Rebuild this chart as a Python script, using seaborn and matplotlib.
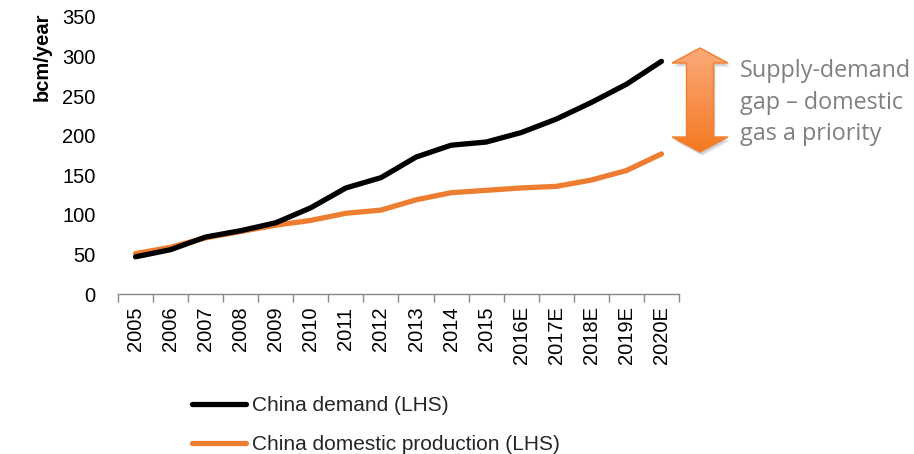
import numpy as np
import pandas as pd
import matplotlib
matplotlib.use("Agg")
import matplotlib.pyplot as plt
from matplotlib.path import Path
from matplotlib.patches import PathPatch, Polygon
from matplotlib.lines import Line2D
import seaborn as sns

years = ["2005", "2006", "2007", "2008", "2009", "2010", "2011", "2012",
         "2013", "2014", "2015", "2016E", "2017E", "2018E", "2019E", "2020E"]
demand = [47, 56, 72, 80, 90, 109, 134, 147, 173, 188, 192, 204, 221, 242, 265, 294]
production = [51, 59, 71, 79, 87, 93, 102, 106, 119, 128, 131, 134, 136, 144, 156, 177]
series_names = ["China demand (LHS)", "China domestic production (LHS)"]
series_colors = ["#000000", "#ED7D31"]
y_ticks = [0, 50, 100, 150, 200, 250, 300, 350]
gap_note = "Supply-demand\ngap \u2013 domestic\ngas a priority"

sns.set_theme(style="white")
plt.rcParams["font.family"] = ["Liberation Sans", "DejaVu Sans"]

W, H = 914, 454
fig = plt.figure(figsize=(W / 100, H / 100), dpi=100)
ax = fig.add_axes([118 / W, (H - 294) / H, 561 / W, 277 / H])

pos = np.arange(len(years))
df = pd.DataFrame({
    "pos": np.concatenate([pos, pos]),
    "value": demand + production,
    "series": [series_names[0]] * len(years) + [series_names[1]] * len(years),
})
# production drawn first so demand sits on top where they overlap
sns.lineplot(data=df[df.series == series_names[1]], x="pos", y="value",
             color=series_colors[1], lw=3.8, ax=ax, legend=False,
             solid_capstyle="round", solid_joinstyle="round")
sns.lineplot(data=df[df.series == series_names[0]], x="pos", y="value",
             color=series_colors[0], lw=3.8, ax=ax, legend=False,
             solid_capstyle="round", solid_joinstyle="round", zorder=3)

ax.set_xlim(-0.5, len(years) - 0.5)
ax.set_ylim(0, 350)
ax.set_yticks(y_ticks)
ax.set_yticklabels([str(v) for v in y_ticks])
ax.set_xticks(pos)
ax.set_xticklabels(years, rotation=90, va="top", ha="center")
ax.set_xticks(np.arange(-0.5, len(years)), minor=True)
ax.tick_params(axis="x", which="major", length=0, pad=9, labelsize=14.5, colors="#000000")
ax.tick_params(axis="x", which="minor", length=6, width=1, color="#898989", bottom=True)
ax.tick_params(axis="y", length=0, pad=16, labelsize=14.5, colors="#000000")
ax.set_xlabel("")
ax.set_ylabel("")
for s in ["top", "right", "left"]:
    ax.spines[s].set_visible(False)
ax.spines["bottom"].set_color("#898989")
ax.spines["bottom"].set_linewidth(1)
ax.grid(False)

fig.text(42 / W, 1 - 57 / H, "bcm/year", rotation=90, ha="center", va="center",
         fontsize=14.5, fontweight="bold", color="#000000")

handles = [Line2D([], [], color=c, lw=3.8) for c in series_colors]
fig.legend(handles, series_names, loc="upper left",
           bbox_to_anchor=(192 / W, 1 - 396 / H), frameon=False,
           fontsize=15, handlelength=2.6, handletextpad=0.3,
           labelspacing=0.95, borderpad=0, borderaxespad=0)

# overlay in pixel coordinates for the gap arrow and its note
ov = fig.add_axes([0, 0, 1, 1], facecolor="none")
ov.set_xlim(0, W)
ov.set_ylim(H, 0)
ov.axis("off")

cx, top, bot = 700, 48, 152
hw, sw, hl = 28, 13.5, 15
arrow_pts = [(cx, top), (cx + hw, top + hl), (cx + sw, top + hl), (cx + sw, bot - hl),
             (cx + hw, bot - hl), (cx, bot), (cx - hw, bot - hl), (cx - sw, bot - hl),
             (cx - sw, top + hl), (cx - hw, top + hl)]
for off, a in [(4, 0.08), (2.5, 0.12)]:
    ov.add_patch(Polygon([(x + off * 0.6, y + off) for x, y in arrow_pts], closed=True,
                         facecolor="#000000", alpha=a, edgecolor="none", zorder=1))
grad = np.linspace(0, 1, 256).reshape(-1, 1)
cmap = matplotlib.colors.LinearSegmentedColormap.from_list(
    "gap", ["#FBAA78", "#F89150", "#F47A20"])
img = ov.imshow(grad, cmap=cmap, extent=(cx - hw, cx + hw, bot, top),
                aspect="auto", origin="upper", zorder=2)
clip = PathPatch(Path(arrow_pts + [arrow_pts[0]], closed=True),
                 facecolor="none", edgecolor="none", transform=ov.transData)
ov.add_patch(clip)
img.set_clip_path(clip)
ov.add_patch(Polygon(arrow_pts, closed=True, facecolor="none",
                     edgecolor="#F07F2E", lw=1.0, zorder=3))
ov.set_xlim(0, W)
ov.set_ylim(H, 0)

ov.text(740, 59, gap_note, ha="left", va="top", fontsize=16.8, color="#808080",
        family=["Open Sans", "DejaVu Sans"], linespacing=1.42)

fig.savefig("out.png", dpi=100)
